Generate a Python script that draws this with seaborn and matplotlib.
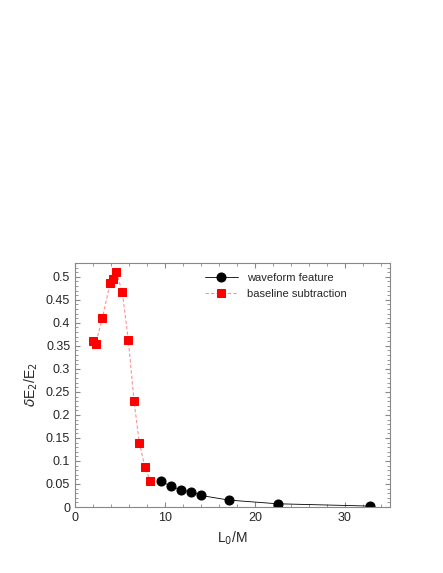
import matplotlib
matplotlib.use("Agg")
import matplotlib.pyplot as plt
import seaborn as sns

# waveform feature (black circles)
wave_x = [9.5, 10.7, 11.8, 12.9, 14.0, 17.1, 22.5, 32.8]
wave_y = [0.056, 0.045, 0.037, 0.033, 0.025, 0.015, 0.007, 0.002]

# baseline subtraction (red squares)
base_x = [2.04, 2.3, 3.04, 3.9, 4.19, 4.6, 5.26, 5.93, 6.56, 7.15, 7.78, 8.33]
base_y = [0.361, 0.355, 0.41, 0.486, 0.495, 0.51, 0.466, 0.362, 0.23, 0.139, 0.086, 0.057]

sns.set_style("ticks")
plt.rcParams['font.family'] = ['Liberation Sans', 'DejaVu Sans']

fig = plt.figure(figsize=(4.43, 5.73), dpi=100)
ax = fig.add_axes([75/443, 1-507/573, 315/443, 244/573])

sns.lineplot(x=wave_x, y=wave_y, ax=ax, color="black", lw=0.6, marker="o",
             markersize=6.5, markeredgecolor="black", label="waveform feature")
sns.lineplot(x=base_x, y=base_y, ax=ax, color="red", lw=0.8, marker="s",
             markersize=5.5, markeredgecolor="red", label="baseline subtraction",
             sort=False)
ax.lines[1].set_dashes([3, 2])
ax.lines[1].set_color("#ff9090")
ax.lines[1].set_markerfacecolor("red")
ax.lines[1].set_markeredgecolor("red")

ax.set_xlim(0, 35)
ax.set_ylim(0, 0.53)
ax.set_xticks([0, 10, 20, 30])
ax.set_yticks([0, 0.05, 0.1, 0.15, 0.2, 0.25, 0.3, 0.35, 0.4, 0.45, 0.5])
ax.set_yticklabels(["0", "0.05", "0.1", "0.15", "0.2", "0.25", "0.3", "0.35", "0.4", "0.45", "0.5"])
ax.minorticks_on()
ax.tick_params(which="both", direction="in", top=True, right=True, labelsize=9, color="#888888")
ax.tick_params(which="minor", length=2)
for s in ax.spines.values():
    s.set_color("#888888")
ax.set_xlabel("L$_0$/M", fontsize=10)
ax.set_ylabel(r"$\delta$E$_2$/E$_2$", fontsize=10)
leg = ax.legend(loc="upper left", bbox_to_anchor=(0.38, 1.0), frameon=False, fontsize=8, handlelength=3)
leg.get_lines()[1].set_color("#ff9090")
leg.get_lines()[1].set_markerfacecolor("red")
leg.get_lines()[1].set_markeredgecolor("red")

fig.savefig("out.png", dpi=100)
